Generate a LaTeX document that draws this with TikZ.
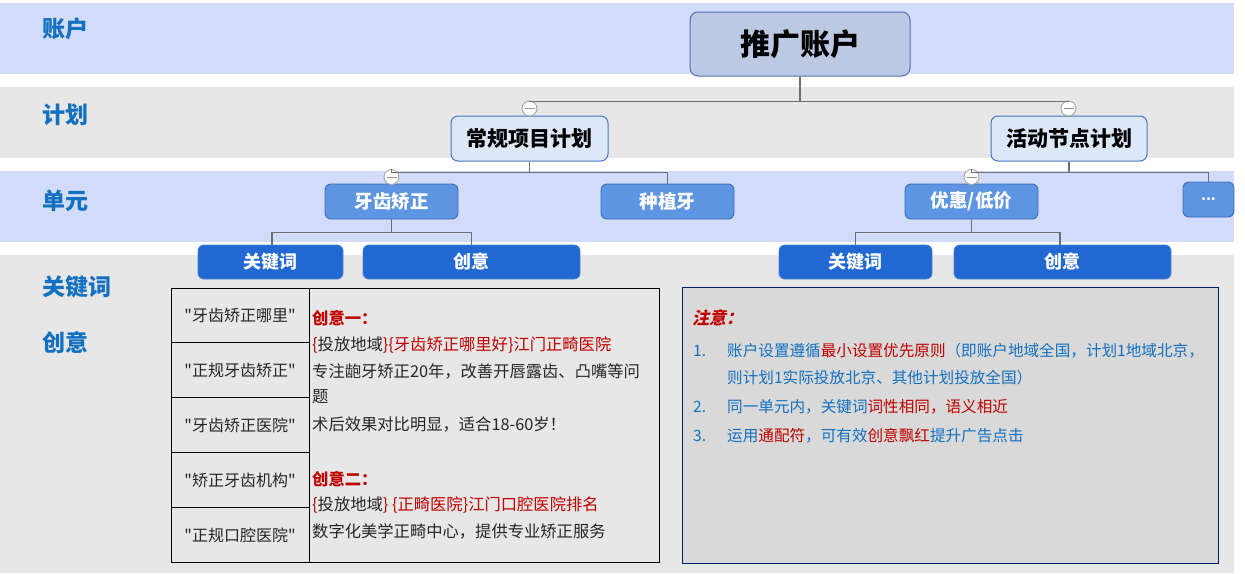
\documentclass[tikz,border=0pt]{standalone}
\usepackage{fontspec}
\setmainfont{Noto Sans CJK SC}
\newfontfamily\slantcjk{Noto Sans CJK SC}[FakeSlant=0.22]
\newfontfamily\kwfont{Noto Sans CJK SC}
\definecolor{bandblue}{HTML}{D3DBFA}
\definecolor{bandgray}{HTML}{E7E7E7}
\definecolor{lblue}{HTML}{1470C0}
\definecolor{redc}{HTML}{C00000}
\definecolor{rootfill}{HTML}{BDC8E3}
\definecolor{rootdraw}{HTML}{4F72B8}
\definecolor{planfill}{HTML}{DCE7F8}
\definecolor{plandraw}{HTML}{4A76C2}
\definecolor{unitfill}{HTML}{5E95E3}
\definecolor{unitdraw}{HTML}{3E6DB5}
\definecolor{btnfill}{HTML}{2168D2}
\definecolor{btndraw}{HTML}{4A7FD0}
\definecolor{connc}{HTML}{6E6E6E}
\definecolor{notefill}{HTML}{D9D9D9}
\definecolor{notedraw}{HTML}{002060}
\definecolor{txtc}{HTML}{262626}
\tikzset{
  lvl/.style={anchor=west, inner sep=0pt, text=lblue, font=\bfseries\fontsize{23}{23}\selectfont},
  rootbox/.style={draw=rootdraw, fill=rootfill, rounded corners=8pt, line width=1pt, minimum width=220pt, minimum height=64pt, inner sep=0pt, font=\bfseries\fontsize{30}{30}\selectfont},
  planbox/.style={draw=plandraw, fill=planfill, rounded corners=7pt, line width=1pt, minimum height=45pt, inner sep=0pt, font=\bfseries\fontsize{21}{21}\selectfont},
  unitbox/.style={draw=unitdraw, fill=unitfill, rounded corners=6pt, line width=0.9pt, minimum height=35pt, inner sep=0pt, text=white, font=\bfseries\fontsize{18.5}{18.5}\selectfont},
  btnbox/.style={draw=btndraw, fill=btnfill, rounded corners=6pt, line width=0.9pt, minimum height=34pt, inner sep=0pt, text=white, font=\bfseries\fontsize{18}{18}\selectfont},
  collapse/.style={circle, draw=gray!70, fill=white, minimum size=15pt, inner sep=0pt, line width=0.9pt,
    path picture={\draw[gray!85, line width=0.9pt] ([xshift=-5pt]path picture bounding box.center) -- ([xshift=5pt]path picture bounding box.center);}},
  conn/.style={draw=connc, line width=1.3pt},
  kwtext/.style={inner sep=0pt, text=txtc, font=\kwfont\fontsize{16}{16}\selectfont},
  cytext/.style={anchor=west, inner sep=0pt, text=txtc, font=\fontsize{16.3}{16.3}\selectfont},
  notetext/.style={anchor=west, inner sep=0pt, text=lblue, font=\fontsize{15.6}{15.6}\selectfont},
}
\begin{document}
\begin{tikzpicture}[x=1pt,y=-1pt]
\useasboundingbox (0,0) rectangle (1245,573);
% bands
\fill[bandblue] (0,3) rectangle (1234,74);
\fill[bandgray] (0,87) rectangle (1234,158);
\fill[bandblue] (0,171) rectangle (1234,242);
\fill[bandgray] (0,255) rectangle (1234,573);
% level labels
\node[lvl] (lA) at (42,29) {账户};
\node[lvl] (lB) at (42,115) {计划};
\node[lvl] (lC) at (42,201) {单元};
\node[lvl] (lD) at (42,287) {关键词};
\node[lvl] (lE) at (42,343) {创意};
% tree nodes
\node[rootbox] (root) at (800,44) {推广账户};
\node[planbox, minimum width=157pt] (p1) at (529.5,138.5) {常规项目计划};
\node[planbox, minimum width=156pt] (p2) at (1069,138.5) {活动节点计划};
\node[collapse] (c1) at (529.5,108.5) {};
\node[collapse] (c2) at (1068.5,108.5) {};
\node[unitbox, minimum width=133pt] (u1) at (391.5,201.5) {牙齿矫正};
\node[unitbox, minimum width=133pt] (u2) at (667.5,201.5) {种植牙};
\node[unitbox, minimum width=133pt] (u3) at (971.5,201.5) {优惠/低价};
\node[unitbox, minimum width=51pt, font=\bfseries\fontsize{14}{14}\selectfont] (u4) at (1208.5,199.5) {...};
\node[collapse] (c3) at (391.5,177) {};
\node[collapse] (c4) at (971.5,177) {};
\node[btnbox, minimum width=145pt] (k1) at (270.5,262) {关键词};
\node[btnbox, minimum width=217pt] (i1) at (471.5,262) {创意};
\node[btnbox, minimum width=153pt] (k2) at (855.5,262) {关键词};
\node[btnbox, minimum width=217pt] (i2) at (1062.5,262) {创意};
% connectors
\draw[conn] (root.south) -- ++(0,25) -| (c1.north);
\draw[conn] (root.south) -- ++(0,25) -| (c2.north);
\draw[conn] (p1.south) -- ++(0,11) -| (c3.north);
\draw[conn] (p1.south) -- ++(0,11) -| (u2.north);
\draw[conn] (p2.south) -- ++(0,11) -| (c4.north);
\draw[conn] (p2.south) -- ++(0,11) -| (u4.north);
\draw[conn] (u1.south) -- ++(0,13) -| ([xshift=1.5pt]k1.north);
\draw[conn] (u1.south) -- ++(0,13) -| (i1.north);
\draw[conn] (u3.south) -- ++(0,13) -| (k2.north);
\draw[conn] (u3.south) -- ++(0,13) -| ([xshift=-2.5pt]i2.north);
% table
\draw[line width=0.9pt, black] (171,288) rectangle (659,562);
\draw[line width=0.9pt, black] (309,288) -- (309,562);
\foreach \yy in {342,397,452,507} \draw[line width=0.9pt, black] (171,\yy) -- (309,\yy);
\node[kwtext] (w1) at (240,315) {"牙齿矫正哪里"};
\node[kwtext] (w2) at (240,370) {"正规牙齿矫正"};
\node[kwtext] (w3) at (240,425) {"牙齿矫正医院"};
\node[kwtext] (w4) at (240,480) {"矫正牙齿机构"};
\node[kwtext] (w5) at (240,535) {"正规口腔医院"};
\node[cytext, text=redc, font=\bfseries\fontsize{16.3}{16.3}\selectfont] (t1) at (312,318) {创意一：};
\node[cytext] (t2) at (312,345) {{\color{redc}\{}投放地域{\color{redc}\}\{牙齿矫正哪里好\}江门正畸医院}};
\node[cytext] (t3) at (312,371) {专注龅牙矫正20年，改善开唇露齿、凸嘴等问};
\node[cytext] (t4) at (312,397) {题};
\node[cytext] (t5) at (312,424) {术后效果对比明显，适合18-60岁！};
\node[cytext, text=redc, font=\bfseries\fontsize{16.3}{16.3}\selectfont] (t6) at (312,479) {创意二：};
\node[cytext] (t7) at (312,505) {{\color{redc}\{}投放地域{\color{redc}\} \{正畸医院\}江门口腔医院排名}};
\node[cytext] (t8) at (312,531) {数字化美学正畸中心，提供专业矫正服务};
% note box
\node[draw=notedraw, fill=notefill, line width=1pt, minimum width=536pt, minimum height=276pt, inner sep=0pt, anchor=north west] (note) at (682,287) {};
\node[notetext, text=redc, font=\slantcjk\bfseries\fontsize{17}{17}\selectfont] (n0) at (692,318) {注意：};
\node[notetext] (n1) at (693,351) {1.};
\node[notetext] (m1) at (727,351) {账户设置遵循{\color{redc}最小设置优先原则}（即账户地域全国，计划1地域北京，};
\node[notetext] (m1b) at (727,378) {则计划1实际投放北京、其他计划投放全国）};
\node[notetext] (n2) at (693,407) {2.};
\node[notetext] (m2) at (727,407) {同一单元内，关键词{\color{redc}词性相同，语义相近}};
\node[notetext] (n3) at (693,436) {3.};
\node[notetext] (m3) at (727,436) {运用{\color{redc}通配符}，可有效{\color{redc}创意飘红}提升广告点击};
\end{tikzpicture}
\end{document}
